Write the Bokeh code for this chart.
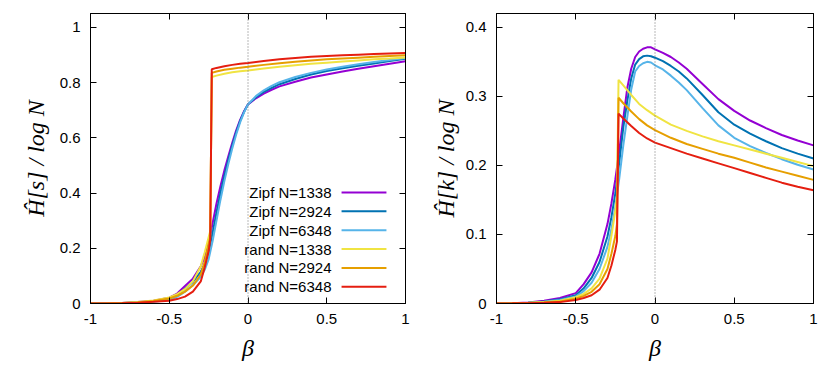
from bokeh.plotting import figure
from bokeh.models import LinearAxis, FixedTicker, Span, Label, Range1d
from bokeh.layouts import row
from bokeh.embed import file_html
from bokeh.resources import INLINE

# ---------------- data ----------------
beta_zipf = [-1, -0.9, -0.8, -0.7, -0.6, -0.5, -0.45, -0.4, -0.35, -0.3,
             -0.275, -0.25, -0.225, -0.2, -0.175, -0.15, -0.125, -0.1, -0.075, -0.05,
             -0.025, 0, 0.05, 0.1, 0.15, 0.2, 0.3, 0.4, 0.5, 0.6, 0.7, 0.8, 0.9, 1.0]
beta_rand = [-1, -0.9, -0.8, -0.7, -0.6, -0.5, -0.45, -0.4, -0.35, -0.3,
             -0.275, -0.25, -0.24, -0.23, -0.2, -0.15, -0.1, -0.05, 0,
             0.1, 0.2, 0.3, 0.4, 0.5, 0.6, 0.7, 0.8, 0.9, 1.0]

hs_zipf_1338 = [0.0, 0.0005, 0.002, 0.005, 0.010, 0.021, 0.036, 0.063, 0.090, 0.135,
                0.167, 0.215, 0.290, 0.362, 0.425, 0.482, 0.533, 0.582, 0.627, 0.665,
                0.696, 0.721, 0.743, 0.760, 0.774, 0.786, 0.803, 0.818, 0.829, 0.840,
                0.850, 0.859, 0.868, 0.877]
hs_zipf_2924 = [0.0, 0.0004, 0.0015, 0.004, 0.008, 0.017, 0.030, 0.053, 0.078, 0.115,
                0.143, 0.185, 0.255, 0.330, 0.400, 0.463, 0.520, 0.572, 0.620, 0.661,
                0.694, 0.721, 0.747, 0.766, 0.781, 0.794, 0.813, 0.829, 0.842, 0.852,
                0.861, 0.869, 0.878, 0.886]
hs_zipf_6348 = [0.0, 0.0003, 0.001, 0.003, 0.006, 0.013, 0.024, 0.043, 0.066, 0.097,
                0.122, 0.160, 0.225, 0.300, 0.375, 0.443, 0.505, 0.561, 0.612, 0.656,
                0.692, 0.721, 0.751, 0.772, 0.788, 0.801, 0.820, 0.835, 0.847, 0.857,
                0.866, 0.874, 0.882, 0.889]
hs_rand_1338 = [0.0, 0.0005, 0.002, 0.005, 0.011, 0.022, 0.034, 0.052, 0.080, 0.135,
                0.185, 0.240, 0.262, 0.820, 0.825, 0.832, 0.837, 0.841, 0.844,
                0.851, 0.857, 0.863, 0.868, 0.872, 0.876, 0.880, 0.884, 0.887, 0.891]
hs_rand_2924 = [0.0, 0.0004, 0.0015, 0.004, 0.009, 0.018, 0.028, 0.043, 0.065, 0.105,
                0.150, 0.215, 0.240, 0.835, 0.840, 0.846, 0.850, 0.854, 0.857,
                0.864, 0.870, 0.875, 0.880, 0.884, 0.887, 0.890, 0.893, 0.896, 0.899]
hs_rand_6348 = [0.0, 0.0003, 0.001, 0.003, 0.006, 0.010, 0.016, 0.025, 0.043, 0.080,
                0.130, 0.190, 0.230, 0.848, 0.853, 0.859, 0.864, 0.868, 0.871,
                0.878, 0.884, 0.889, 0.893, 0.896, 0.899, 0.901, 0.903, 0.905, 0.907]

hk_zipf_1338 = [0.0, 0.0005, 0.0015, 0.004, 0.008, 0.015, 0.028, 0.045, 0.072, 0.115,
                0.145, 0.180, 0.222, 0.268, 0.312, 0.340, 0.357, 0.365, 0.369, 0.371,
                0.371, 0.368, 0.363, 0.357, 0.349, 0.340, 0.318, 0.296, 0.279, 0.265,
                0.254, 0.244, 0.236, 0.229]
hk_zipf_2924 = [0.0, 0.0004, 0.0012, 0.003, 0.006, 0.012, 0.022, 0.037, 0.060, 0.097,
                0.125, 0.160, 0.205, 0.255, 0.293, 0.326, 0.346, 0.354, 0.358, 0.359,
                0.358, 0.356, 0.351, 0.344, 0.336, 0.326, 0.302, 0.277, 0.259, 0.246,
                0.235, 0.225, 0.217, 0.210]
hk_zipf_6348 = [0.0, 0.0003, 0.001, 0.0025, 0.005, 0.010, 0.018, 0.030, 0.050, 0.082,
                0.108, 0.140, 0.182, 0.229, 0.270, 0.310, 0.336, 0.344, 0.348, 0.350,
                0.349, 0.345, 0.339, 0.330, 0.320, 0.309, 0.283, 0.258, 0.240, 0.228,
                0.218, 0.209, 0.201, 0.194]
hk_rand_1338 = [0.0, 0.0003, 0.001, 0.002, 0.004, 0.009, 0.014, 0.022, 0.036, 0.065,
                0.098, 0.135, 0.155, 0.324, 0.316, 0.302, 0.289, 0.280, 0.272,
                0.259, 0.250, 0.242, 0.235, 0.229, 0.223, 0.217, 0.211, 0.205, 0.199]
hk_rand_2924 = [0.0, 0.0002, 0.0008, 0.0015, 0.003, 0.007, 0.011, 0.017, 0.028, 0.050,
                0.072, 0.098, 0.115, 0.298, 0.290, 0.278, 0.267, 0.258, 0.251,
                0.240, 0.231, 0.224, 0.217, 0.211, 0.204, 0.197, 0.191, 0.185, 0.179]
hk_rand_6348 = [0.0, 0.0002, 0.0005, 0.001, 0.002, 0.005, 0.008, 0.012, 0.020, 0.037,
                0.055, 0.078, 0.090, 0.275, 0.268, 0.257, 0.247, 0.239, 0.233,
                0.225, 0.217, 0.210, 0.203, 0.196, 0.189, 0.182, 0.175, 0.169, 0.164]

series_names = ["Zipf N=1338", "Zipf N=2924", "Zipf N=6348",
                "rand N=1338", "rand N=2924", "rand N=6348"]

x_ticks = [-1, -0.5, 0, 0.5, 1]
x_tick_labels = ["-1", "-0.5", "0", "0.5", "1"]
ys_ticks = [0, 0.2, 0.4, 0.6, 0.8, 1]
ys_tick_labels = ["0", "0.2", "0.4", "0.6", "0.8", "1"]
yk_ticks = [0, 0.1, 0.2, 0.3, 0.4]
yk_tick_labels = ["0", "0.1", "0.2", "0.3", "0.4"]

# ---------------- style ----------------
colors = ["#9400d3", "#0072b2", "#56b4e9", "#f0e442", "#e69f00", "#e51e10"]
SANS = "Liberation Sans"
SERIF = "Liberation Serif"


def make_fig(width, left_border, right_border, y_end, yticks, ylabels, ylabel,
             label_standoff):
    p = figure(width=width, height=372, output_backend="svg", toolbar_location=None,
               x_range=Range1d(-1, 1), y_range=Range1d(0, y_end),
               min_border_left=left_border, min_border_right=right_border,
               min_border_top=13, min_border_bottom=69)
    p.grid.visible = False
    p.outline_line_color = "black"
    p.outline_line_width = 1
    p.background_fill_color = "white"
    p.border_fill_color = "white"

    xa = p.xaxis[0]
    xa.ticker = FixedTicker(ticks=x_ticks)
    xa.major_label_overrides = dict(zip(x_ticks, x_tick_labels))
    xa.axis_label = "β"
    ya = p.yaxis[0]
    ya.ticker = FixedTicker(ticks=yticks)
    ya.major_label_overrides = dict(zip(yticks, ylabels))
    ya.axis_label = ylabel
    for ax in (xa, ya):
        ax.major_tick_in = 6
        ax.major_tick_out = 0
        ax.minor_tick_in = 0
        ax.minor_tick_out = 0
        ax.axis_line_color = "black"
        ax.major_tick_line_color = "black"
        ax.major_label_text_font = SANS
        ax.major_label_text_font_size = "15px"
        ax.major_label_text_color = "black"
        ax.axis_label_text_font = SERIF
        ax.axis_label_text_font_style = "italic"
        ax.axis_label_text_font_size = "24px"
        ax.axis_label_text_color = "black"
        ax.major_label_standoff = 10
    xa.axis_label_standoff = 8
    ya.axis_label_standoff = label_standoff

    # mirrored ticks on top and right (no labels)
    for loc, ticks in (("above", x_ticks), ("right", yticks)):
        ax = LinearAxis(ticker=FixedTicker(ticks=ticks),
                        major_label_overrides={t: "" for t in ticks},
                        major_label_text_font_size="1px",
                        major_label_standoff=0, major_tick_in=6, major_tick_out=0,
                        minor_tick_in=0, minor_tick_out=0, axis_line_color="black",
                        major_tick_line_color="black")
        p.add_layout(ax, loc)

    p.add_layout(Span(location=0, dimension="height", line_color="#707070",
                      line_width=1, line_dash="1 2"))
    return p


p1 = make_fig(413, 90, 8, 1.05, ys_ticks, ys_tick_labels, "Ĥ[s] / log N", 8)
p2 = make_fig(409, 83, 9, 0.42, yk_ticks, yk_tick_labels, "Ĥ[k] / log N", 4)

hs_series = [(beta_zipf, hs_zipf_1338), (beta_zipf, hs_zipf_2924), (beta_zipf, hs_zipf_6348),
             (beta_rand, hs_rand_1338), (beta_rand, hs_rand_2924), (beta_rand, hs_rand_6348)]
hk_series = [(beta_zipf, hk_zipf_1338), (beta_zipf, hk_zipf_2924), (beta_zipf, hk_zipf_6348),
             (beta_rand, hk_rand_1338), (beta_rand, hk_rand_2924), (beta_rand, hk_rand_6348)]

for (bx, by), c in zip(hs_series, colors):
    p1.line(bx, by, line_color=c, line_width=2)
for (bx, by), c in zip(hk_series, colors):
    p2.line(bx, by, line_color=c, line_width=2)

# legend (gnuplot style: label right-aligned, then sample line)
LEG_TEXT_X = 0.53
LEG_LINE_X0, LEG_LINE_X1 = 0.594, 0.879
LEG_Y0, LEG_DY = 0.402, 0.0683
for i, (name, c) in enumerate(zip(series_names, colors)):
    yy = LEG_Y0 - i * LEG_DY
    p1.add_layout(Label(x=LEG_TEXT_X, y=yy, text=name, text_align="right",
                        text_baseline="middle", text_font=SANS,
                        text_font_size="15px", text_color="black"))
    p1.line([LEG_LINE_X0, LEG_LINE_X1], [yy, yy], line_color=c, line_width=2)

layout = row(p1, p2)
open("out.html", "w").write(file_html(layout, INLINE))
